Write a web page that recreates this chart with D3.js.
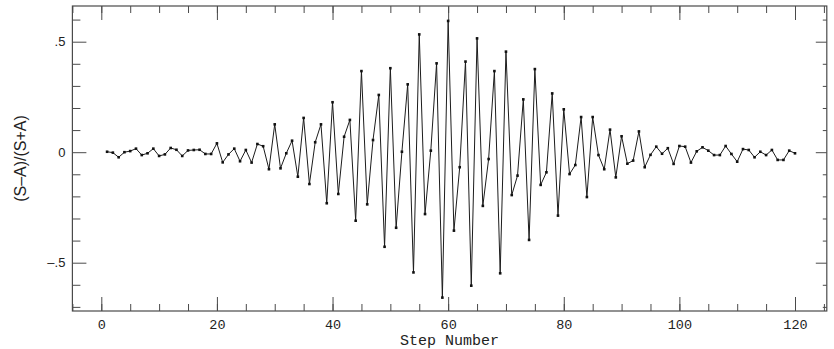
<!DOCTYPE html>
<html>
<head>
<meta charset="utf-8">
<script src="https://cdn.jsdelivr.net/npm/d3@7"></script>
<style>
  html, body { margin: 0; padding: 0; background: #fff; }
  svg { display: block; }
</style>
</head>
<body>
<svg id="chart" width="834" height="349"></svg>
<script>
// ---- data ----
const steps = d3.range(1, 121);
const ratio = [
  0.002, -0.002, -0.023, 0.000, 0.005, 0.016, -0.013, -0.005, 0.016, -0.017,
  -0.010, 0.019, 0.011, -0.017, 0.008, 0.010, 0.011, -0.008, -0.008, 0.040,
  -0.046, -0.010, 0.016, -0.041, 0.010, -0.047, 0.037, 0.027, -0.077, 0.126,
  -0.073, -0.005, 0.052, -0.111, 0.155, -0.144, 0.045, 0.126, -0.231, 0.226,
  -0.189, 0.070, 0.146, -0.310, 0.367, -0.236, 0.055, 0.259, -0.428, 0.380,
  -0.342, 0.002, 0.307, -0.544, 0.533, -0.280, 0.007, 0.402, -0.658, 0.594,
  -0.355, -0.068, 0.410, -0.604, 0.515, -0.243, -0.031, 0.367, -0.548, 0.455,
  -0.194, -0.106, 0.239, -0.397, 0.376, -0.148, -0.091, 0.266, -0.287, 0.194,
  -0.099, -0.058, 0.159, -0.203, 0.159, -0.013, -0.077, 0.102, -0.114, 0.072,
  -0.052, -0.038, 0.094, -0.068, -0.012, 0.025, -0.007, 0.018, -0.053, 0.028,
  0.025, -0.047, 0.004, 0.022, 0.007, -0.013, -0.013, 0.028, -0.008, -0.043,
  0.014, 0.010, -0.023, 0.002, -0.013, 0.010, -0.035, -0.035, 0.007, -0.005
];
const xMajorTicks = [0, 20, 40, 60, 80, 100, 120];
const xMinorTicks = d3.range(-5, 126, 5);
const yMajorTicks = [-0.5, 0, 0.5];
const yMajorLabels = ["\u2013.5", "0", ".5"];
const yMinorTicks = [-0.7, -0.6, -0.4, -0.3, -0.2, -0.1, 0.1, 0.2, 0.3, 0.4, 0.6];
const xTitle = "Step Number";
const yTitle = "(S\u2013A)/(S+A)";

// ---- layout ----
const L = 72.4, R = 826.8, T = 6, B = 311;
const svg = d3.select("#chart");
const x = d3.scaleLinear().domain([-5, 125.5]).range([L, R]);
const y = d3.scaleLinear().domain([-0.7186, 0.6615]).range([B, T]);

const axisColor = "#4a4a4a";

function styleAxis(g) {
  g.select(".domain").remove();
  g.selectAll(".tick line").attr("stroke", axisColor).attr("stroke-width", 1);
}

// bottom
svg.append("g").attr("transform", `translate(0,${B})`)
  .call(d3.axisBottom(x).tickValues(xMinorTicks).tickSize(-7).tickFormat(""))
  .call(styleAxis);
svg.append("g").attr("transform", `translate(0,${B})`)
  .call(d3.axisBottom(x).tickValues(xMajorTicks).tickSize(-14).tickPadding(8).tickFormat(d3.format("d")))
  .call(styleAxis)
  .call(g => g.selectAll("text").attr("font-family", "Liberation Mono, monospace")
    .attr("font-size", 13.5).attr("fill", "#222"));
// top
svg.append("g").attr("transform", `translate(0,${T})`)
  .call(d3.axisTop(x).tickValues(xMinorTicks).tickSize(-7).tickFormat(""))
  .call(styleAxis);
svg.append("g").attr("transform", `translate(0,${T})`)
  .call(d3.axisTop(x).tickValues(xMajorTicks).tickSize(-14).tickFormat(""))
  .call(styleAxis);
// left
svg.append("g").attr("transform", `translate(${L},0)`)
  .call(d3.axisLeft(y).tickValues(yMinorTicks).tickSize(-8).tickFormat(""))
  .call(styleAxis);
svg.append("g").attr("transform", `translate(${L},0)`)
  .call(d3.axisLeft(y).tickValues(yMajorTicks).tickSize(-14).tickPadding(7)
    .tickFormat((d, i) => yMajorLabels[i]))
  .call(styleAxis)
  .call(g => g.selectAll("text").attr("font-family", "Liberation Sans, Arial, sans-serif")
    .attr("font-size", 13).attr("fill", "#222"));
// right
svg.append("g").attr("transform", `translate(${R},0)`)
  .call(d3.axisRight(y).tickValues(yMinorTicks).tickSize(-4).tickFormat(""))
  .call(styleAxis);
svg.append("g").attr("transform", `translate(${R},0)`)
  .call(d3.axisRight(y).tickValues(yMajorTicks).tickSize(-11).tickFormat(""))
  .call(styleAxis);

// frame
svg.append("rect").attr("x", L).attr("y", T).attr("width", R - L).attr("height", B - T)
  .attr("fill", "none").attr("stroke", axisColor).attr("stroke-width", 1.2);

// data line
const pts = steps.map((s, i) => [s, ratio[i]]);
svg.append("path")
  .datum(pts)
  .attr("fill", "none")
  .attr("stroke", "#1c1c1c")
  .attr("stroke-width", 1)
  .attr("d", d3.line().x(d => x(d[0])).y(d => y(d[1])));

svg.append("g").selectAll("rect")
  .data(pts)
  .join("rect")
  .attr("x", d => x(d[0]) - 1.3)
  .attr("y", d => y(d[1]) - 1.3)
  .attr("width", 2.6)
  .attr("height", 2.6)
  .attr("fill", "#111");

// titles
svg.append("text")
  .attr("x", 449.5).attr("y", 345)
  .attr("text-anchor", "middle")
  .attr("font-family", "Liberation Mono, monospace")
  .attr("font-size", 15).attr("fill", "#222")
  .text(xTitle);

svg.append("text")
  .attr("transform", "translate(26,158.5) rotate(-90)")
  .attr("text-anchor", "middle")
  .attr("font-family", "Liberation Sans, Arial, sans-serif")
  .attr("font-size", 16).attr("fill", "#222")
  .text(yTitle);
</script>
</body>
</html>
